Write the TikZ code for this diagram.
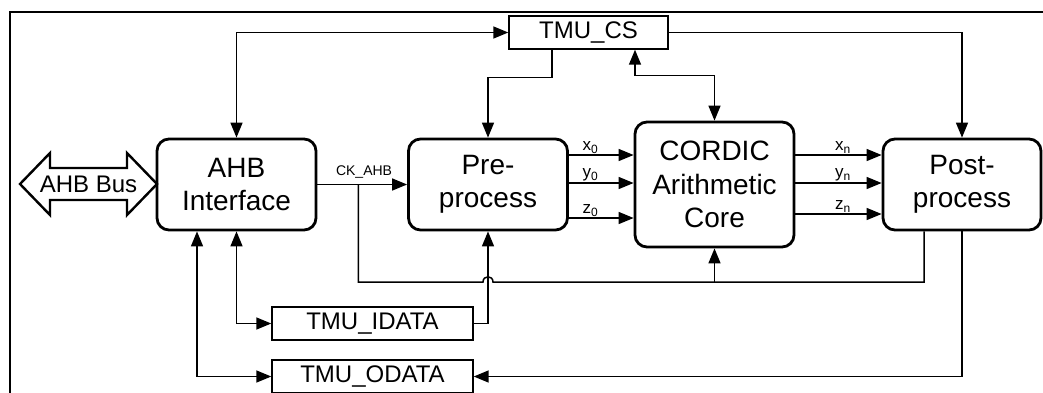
\documentclass[tikz,border=0pt]{standalone}
\usepackage{fontspec}
\setmainfont{Liberation Sans}
\usetikzlibrary{arrows.meta,calc}
\newcommand{\sbs}[1]{\raisebox{-2.5pt}{\fontsize{12}{12}\selectfont #1}}
\tikzset{
  blk/.style={draw,line width=2.8pt,rounded corners=12pt,minimum width=159pt,minimum height=91pt,align=center,inner sep=0pt,font=\fontsize{28}{33.5}\selectfont},
  reg/.style={draw,line width=1.4pt,minimum height=33pt,inner sep=0pt,font=\fontsize{24}{28}\selectfont},
  conn/.style={line width=1.5pt,-{Triangle[length=15pt,width=12pt]}},
  bconn/.style={line width=1.5pt,{Triangle[length=15pt,width=12pt]}-{Triangle[length=15pt,width=12pt]}},
  line/.style={line width=1.5pt},
  sig/.style={font=\fontsize{17}{19}\selectfont,inner sep=1pt,above},
}
\begin{document}
\begin{tikzpicture}[x=1pt,y=-1pt]
\clip (0,0) rectangle (1043,392);
\draw[line width=2.4pt] (10,12) rectangle (1070,420);

% nodes
\node[blk] (ahb) at (236.5,184.5) {AHB\\Interface};
\node[blk] (pre) at (488,184.5) {Pre-\\process};
\node[blk,minimum height=125pt] (cordic) at (714.5,184.5) {CORDIC\\Arithmetic\\Core};
\node[blk,minimum width=158pt] (post) at (962,184.5) {Post-\\process};
\node[reg,minimum width=159pt] (cs) at (588.5,32.5) {TMU\_CS};
\node[reg,minimum width=201pt] (idata) at (372.5,323.5) {TMU\_IDATA};
\node[reg,minimum width=201pt] (odata) at (372.5,376.5) {TMU\_ODATA};

% AHB bus double arrow
\draw[line width=2.4pt,line join=miter] (20,184) -- (50,153) -- (50,168) -- (127,168) -- (127,153) -- (157,184)
  -- (127,215) -- (127,200) -- (50,200) -- (50,215) -- cycle;
\node[font=\fontsize{24}{28}\selectfont,inner sep=0pt] (bus) at (88.5,184) {AHB Bus};

% TMU_CS connections
\draw[bconn] (ahb.north) |- (cs.west);
\draw[conn] (cs.east) -| (post.north);
\draw[conn] ([xshift=-36.5pt]cs.south) -- ++(0,28) -| (pre.north);
\draw[bconn] ([xshift=46.5pt]cs.south) |- ($(cordic.north)+(0,-45)$) -- (cordic.north);

% clock
\draw[conn] (ahb.east) -- (pre.west) node[sig,pos=0.52,yshift=4pt,font=\fontsize{14}{16}\selectfont] (ck) {CK\_AHB};
\coordinate (ckj) at ($(ahb.east)!0.4565!(pre.west)$);
\coordinate (bl) at ($(ckj)+(0,97.5)$);
\coordinate (hop) at (bl -| pre.south);
\draw[line] (ckj) -- (bl) -- ($(hop)+(-5,0)$) .. controls ($(hop)+(-5,-7)$) and ($(hop)+(5,-7)$) .. ($(hop)+(5,0)$)
  -- ([xshift=-38pt]post.south |- bl) -- ([xshift=-38pt]post.south);
\draw[conn] (cordic.south |- bl) -- (cordic.south);

% pre -> cordic
\draw[conn] (pre.east |- 0,155) -- (cordic.west |- 0,155) node[sig,pos=0.33] (x0) {x\sbs{0}};
\draw[conn] (pre.east |- 0,183) -- (cordic.west |- 0,183) node[sig,pos=0.33] (y0) {y\sbs{0}};
\draw[conn] (pre.east |- 0,218) -- (cordic.west |- 0,218) node[sig,pos=0.33] (z0) {z\sbs{0}};

% cordic -> post
\draw[conn] (cordic.east |- 0,155) -- (post.west |- 0,155) node[sig,pos=0.55] (xn) {x\sbs{n}};
\draw[conn] (cordic.east |- 0,183) -- (post.west |- 0,183) node[sig,pos=0.55] (yn) {y\sbs{n}};
\draw[conn] (cordic.east |- 0,214) -- (post.west |- 0,214) node[sig,pos=0.55] (zn) {z\sbs{n}};

% data registers
\draw[conn] (idata.east) -| (pre.south);
\draw[bconn] (ahb.south) |- (idata.west);
\draw[bconn] ([xshift=-39.5pt]ahb.south) |- (odata.west);
\draw[conn] (post.south) |- (odata.east);
\end{tikzpicture}
\end{document}
